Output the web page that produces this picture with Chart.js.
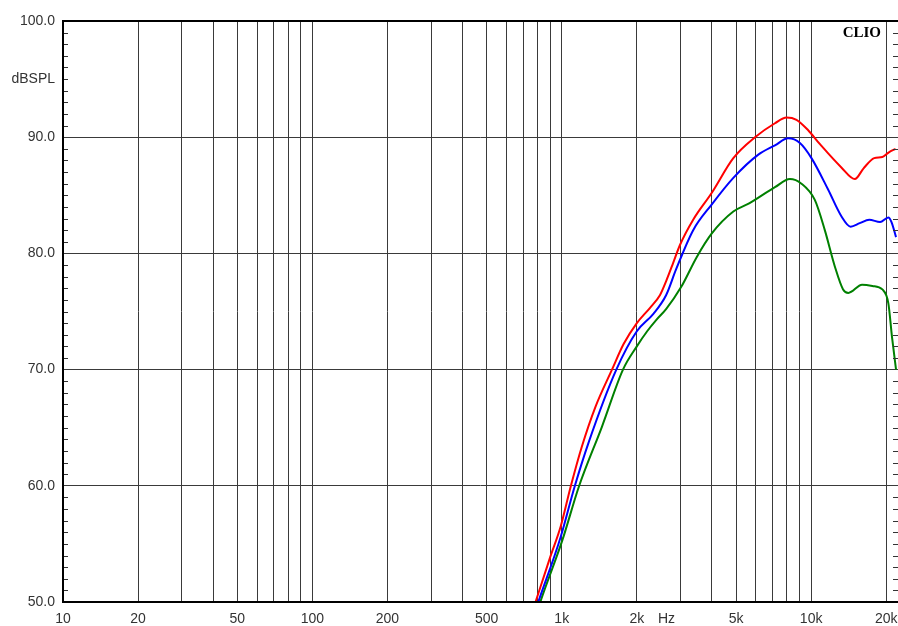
<!DOCTYPE html>
<html>
<head>
<meta charset="utf-8">
<script src="https://cdn.jsdelivr.net/npm/chart.js@4.4.1/dist/chart.umd.min.js"></script>
<style>
  html, body { margin: 0; padding: 0; background: #fff; overflow: hidden; }
  #wrap { width: 898px; height: 626px; }
</style>
</head>
<body>
<div id="wrap"><canvas id="chart" width="898" height="626"></canvas></div>
<script>
// frequency grid and labels
const xGridFreqs = [20, 30, 40, 50, 60, 70, 80, 90, 100, 200, 300, 400, 500, 600, 700, 800, 900,
    1000, 2000, 3000, 4000, 5000, 6000, 7000, 8000, 9000, 10000, 20000];
const xLabelFreqs = [10, 20, 50, 100, 200, 500, 1000, 2000, 2630, 5000, 10000, 20000];
const xLabelTexts = ['10', '20', '50', '100', '200', '500', '1k', '2k', 'Hz', '5k', '10k', '20k'];
const yLabelValues = [50, 60, 70, 80, 90, 95, 100];
const yLabelTexts = ['50.0', '60.0', '70.0', '80.0', '90.0', 'dBSPL', '100.0'];

// red curve
const redFreq = [740, 785, 900, 990, 1085, 1205, 1365, 1590, 1770, 2000, 2255, 2475, 2620, 2800, 2975, 3365,
    3990, 4875, 5955, 7160, 7965, 8735, 9730, 10850, 13220, 14980, 16200, 17900, 19300, 20500, 21800];
const redDb = [48.3, 50.0, 53.9, 56.5, 59.9, 63.4, 66.8, 70.0, 72.2, 74.0, 75.3, 76.4, 77.6, 79.2, 80.7, 82.9,
    85.2, 88.2, 90.0, 91.2, 91.7, 91.5, 90.6, 89.4, 87.4, 86.4, 87.3, 88.2, 88.3, 88.7, 89.0];

// blue curve
const blueFreq = [760, 805, 990, 1125, 1280, 1655, 2000, 2330, 2620, 2870, 3365, 3990, 4875, 6140,
    7160, 8090, 9015, 10030, 11695, 13220, 14400, 15660, 17100, 18900, 20400, 21000, 21900];
const blueDb = [48.4, 50.0, 55.6, 59.9, 63.7, 70.0, 73.3, 74.8, 76.4, 78.6, 82.0, 84.2, 86.5, 88.5,
    89.3, 89.9, 89.5, 88.2, 85.5, 83.2, 82.3, 82.6, 82.9, 82.7, 83.1, 82.7, 81.4];

// green curve
const greenFreq = [780, 820, 1005, 1170, 1450, 1760, 2000, 2200, 2400, 2620, 3010, 3480, 3990, 4875, 5640,
    7160, 8220, 9145, 10345, 11345, 12435, 13430, 14100, 16000, 17600, 19300, 20400, 21100, 21900];
const greenDb = [48.5, 50.0, 55.3, 59.9, 65.1, 70.0, 72.0, 73.3, 74.3, 75.2, 77.1, 79.7, 81.7, 83.6, 84.3,
    85.7, 86.4, 86.0, 84.6, 82.0, 78.9, 76.9, 76.6, 77.3, 77.2, 76.9, 75.7, 72.8, 70.0];

function points(freqs, vals) {
    return freqs.map((f, i) => ({ x: f, y: vals[i] }));
}

function curve(label, freqs, vals, color) {
    return {
        label: label,
        data: points(freqs, vals),
        borderColor: color,
        borderWidth: 2,
        pointRadius: 0,
        cubicInterpolationMode: 'monotone',
        fill: false
    };
}

// frame, minor ticks and the CLIO mark
const framePlugin = {
    id: 'frame',
    afterDatasetsDraw(chart) {
        const ctx = chart.ctx;
        const a = chart.chartArea;
        const y = chart.scales.y;
        ctx.save();
        ctx.strokeStyle = '#333';
        ctx.lineWidth = 1;
        for (let v = 51; v < 100; v++) {
            if (v % 10 === 0) continue;
            const py = Math.round(y.getPixelForValue(v)) + 0.5;
            ctx.beginPath();
            ctx.moveTo(a.left, py);
            ctx.lineTo(a.left + 5, py);
            ctx.moveTo(a.right - 5, py);
            ctx.lineTo(a.right, py);
            ctx.stroke();
        }
        ctx.strokeStyle = '#000';
        ctx.lineWidth = 2;
        ctx.beginPath();
        ctx.moveTo(a.right, a.top);
        ctx.lineTo(a.left, a.top);
        ctx.lineTo(a.left, a.bottom);
        ctx.lineTo(a.right, a.bottom);
        ctx.stroke();
        ctx.fillStyle = '#000';
        ctx.font = 'bold 15px "Liberation Serif", serif';
        ctx.textAlign = 'right';
        ctx.textBaseline = 'alphabetic';
        ctx.fillText('CLIO', 881, 37);
        ctx.restore();
    }
};

new Chart(document.getElementById('chart'), {
    type: 'line',
    data: {
        datasets: [
            curve('Red', redFreq, redDb, '#ff0000'),
            curve('Blue', blueFreq, blueDb, '#0000ff'),
            curve('Green', greenFreq, greenDb, '#008000')
        ]
    },
    options: {
        responsive: false,
        animation: false,
        layout: { padding: { top: 21, right: 0, left: 0, bottom: 0 } },
        plugins: { legend: { display: false }, tooltip: { enabled: false } },
        scales: {
            x: {
                type: 'logarithmic',
                min: 10,
                max: 22300,
                afterFit(scale) {
                    scale.height = 24;
                    scale.paddingLeft = 0;
                    scale.paddingRight = 0;
                },
                afterBuildTicks(scale) {
                    const vals = xGridFreqs.concat([10, 2630]).sort((p, q) => p - q);
                    scale.ticks = vals.map(v => ({ value: v }));
                },
                border: { display: false },
                grid: {
                    drawTicks: false,
                    color(ctx) {
                        const v = ctx.tick && ctx.tick.value;
                        return xGridFreqs.includes(v) ? '#3a3a3a' : 'rgba(0,0,0,0)';
                    },
                    lineWidth: 1
                },
                ticks: {
                    autoSkip: false,
                    maxRotation: 0,
                    padding: 9,
                    color: '#333',
                    font: { family: '"Liberation Sans", Arial, sans-serif', size: 14 },
                    callback(value) {
                        const i = xLabelFreqs.indexOf(value);
                        return i >= 0 ? xLabelTexts[i] : '';
                    }
                }
            },
            y: {
                type: 'linear',
                min: 50,
                max: 100,
                afterFit(scale) {
                    scale.width = 63;
                    scale.paddingTop = 0;
                    scale.paddingBottom = 0;
                },
                afterBuildTicks(scale) {
                    const vals = [];
                    for (let v = 50; v <= 100; v += 5) vals.push(v);
                    scale.ticks = vals.map(v => ({ value: v }));
                },
                border: { display: false },
                grid: {
                    drawTicks: false,
                    color(ctx) {
                        const v = ctx.tick && ctx.tick.value;
                        return (v % 10 === 0 && v > 50 && v < 100) ? '#3a3a3a' : 'rgba(0,0,0,0)';
                    },
                    lineWidth: 1
                },
                ticks: {
                    autoSkip: false,
                    padding: 8,
                    color: '#333',
                    font: { family: '"Liberation Sans", Arial, sans-serif', size: 14 },
                    callback(value) {
                        const i = yLabelValues.indexOf(value);
                        return i >= 0 ? yLabelTexts[i] : '';
                    }
                }
            }
        }
    },
    plugins: [framePlugin]
});
</script>
</body>
</html>
